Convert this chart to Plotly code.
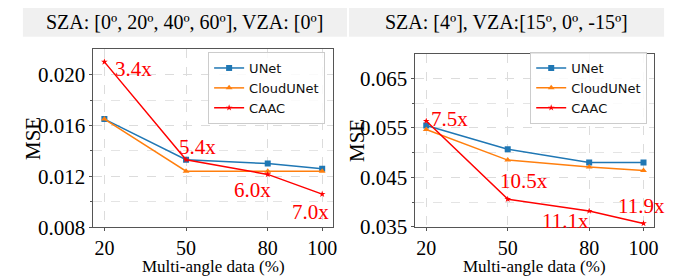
import plotly.graph_objects as go

W, H = 678, 279

x_pct = [20, 50, 80, 100]
x_ticks = [20, 50, 80, 100]

# Left panel
left_title = "SZA: [0º, 20º, 40º, 60º], VZA: [0º]"
left_unet = [0.0165, 0.0133, 0.0130, 0.0126]
left_cloud = [0.0165, 0.0124, 0.0124, 0.0124]
left_caac = [0.0210, 0.0133, 0.01215, 0.0106]
left_labels = ["3.4x", "5.4x", "6.0x", "7.0x"]
left_yticks = [0.008, 0.012, 0.016, 0.020]

# Right panel
right_title = "SZA: [4º], VZA:[15º, 0º, -15º]"
right_unet = [0.0555, 0.0507, 0.0480, 0.0480]
right_cloud = [0.0547, 0.0485, 0.0471, 0.0464]
right_caac = [0.0564, 0.0406, 0.0382, 0.0357]
right_labels = ["7.5x", "10.5x", "11.1x", "11.9x"]
right_yticks = [0.035, 0.045, 0.055, 0.065]

series_names = ["UNet", "CloudUNet", "CAAC"]
colors = ["#1f77b4", "#ff7f0e", "#ff0000"]
symbols = ["square", "triangle-up", "star"]
msizes = [6, 6, 5]

SERIF = "Liberation Serif, Times New Roman, serif"
SANS = "DejaVu Sans, sans-serif"

def px(xp):
    return xp / W

def py(yp):
    return 1 - yp / H

fig = go.Figure()

for data, xa, ya, leg in [
    ((left_unet, left_cloud, left_caac), "x", "y", "legend"),
    ((right_unet, right_cloud, right_caac), "x2", "y2", "legend2"),
]:
    for name, vals, c, s, ms in zip(series_names, data, colors, symbols, msizes):
        fig.add_trace(go.Scatter(
            x=x_pct, y=vals, name=name, mode="lines+markers",
            line=dict(color=c, width=1.5),
            marker=dict(color=c, symbol=s, size=ms, line=dict(width=0)),
            xaxis=xa, yaxis=ya, legend=leg,
        ))

grid = dict(showgrid=True, gridcolor="#dcdcdc", griddash="dash", gridwidth=1)
axis_common = dict(
    showline=True, linecolor="#555555", linewidth=1, mirror=True,
    ticks="outside", ticklen=3, tickcolor="#555555",
    tickfont=dict(family=SERIF, size=21, color="black"),
    zeroline=False, **grid,
)
xaxis_common = dict(axis_common, tickfont=dict(family=SERIF, size=20, color="black"))

legend_common = dict(
    xanchor="right", yanchor="top",
    bgcolor="rgba(255,255,255,0.85)", bordercolor="#cccccc", borderwidth=1,
    font=dict(family=SANS, size=13, color="#111"), tracegroupgap=0,
    itemwidth=30,
)

fig.update_layout(
    width=W, height=H, margin=dict(l=0, r=0, t=0, b=0),
    paper_bgcolor="white", plot_bgcolor="white",
    xaxis=dict(domain=[px(86), px(327)], range=[16, 104], tickvals=x_ticks,
               anchor="y", **xaxis_common),
    yaxis=dict(domain=[py(229), py(43)], range=[0.008, 0.022], tickvals=left_yticks,
               tickformat=".3f", anchor="x",
               minor=dict(tickvals=[0.010, 0.014, 0.018], ticks="outside", ticklen=2,
                          showgrid=True, gridcolor="#e4e4e4", griddash="dash"),
               **axis_common),
    xaxis2=dict(domain=[px(409.8), px(650.2)], range=[16, 104], tickvals=x_ticks,
                anchor="y2", **xaxis_common),
    yaxis2=dict(domain=[py(228.7), py(47.8)], range=[0.035, 0.070], tickvals=right_yticks,
                tickformat=".3f", anchor="x2",
                minor=dict(tickvals=[0.040, 0.050, 0.060], ticks="outside", ticklen=2,
                           showgrid=True, gridcolor="#e4e4e4", griddash="dash"),
                **axis_common),
    legend=dict(x=px(319), y=py(46), **legend_common),
    legend2=dict(x=px(643), y=py(46), **legend_common),
    showlegend=True,
)

# Title bands
fig.add_shape(type="rect", xref="paper", yref="paper", x0=px(15), x1=px(341),
              y0=py(30), y1=py(0), fillcolor="#f0f0f0", line=dict(width=0), layer="below")
fig.add_shape(type="rect", xref="paper", yref="paper", x0=px(343), x1=px(660),
              y0=py(30), y1=py(0), fillcolor="#f0f0f0", line=dict(width=0), layer="below")

for text, xc in [(left_title, 178), (right_title, 501)]:
    fig.add_annotation(xref="paper", yref="paper", x=px(xc), y=py(15), text=text,
                       showarrow=False, xanchor="center", yanchor="middle",
                       font=dict(family=SERIF, size=20, color="black"))

# Axis titles
for xc in [206.5, 530]:
    fig.add_annotation(xref="paper", yref="paper", x=px(xc), y=py(270),
                       text="Multi-angle data (%)", showarrow=False,
                       xanchor="center", yanchor="middle",
                       font=dict(family=SERIF, size=17, color="black"))
for xc, yc in [(25, 136), (351, 138)]:
    fig.add_annotation(xref="paper", yref="paper", x=px(xc), y=py(yc),
                       text="MSE", showarrow=False, textangle=-90,
                       xanchor="center", yanchor="middle",
                       font=dict(family=SERIF, size=21, color="black"))

# Ratio labels near CAAC points
left_shifts = [(29, -7), (11, 13), (-15, -16), (-12, -18)]
right_shifts = [(23, 2), (16, 18), (-24, -10), (-2, 17)]
for labels, vals, shifts, xr, yr in [
    (left_labels, left_caac, left_shifts, "x", "y"),
    (right_labels, right_caac, right_shifts, "x2", "y2"),
]:
    for lab, xv, yv, (dx, dy) in zip(labels, x_pct, vals, shifts):
        fig.add_annotation(xref=xr, yref=yr, x=xv, y=yv, text=lab, showarrow=False,
                           xshift=dx, yshift=dy, xanchor="center", yanchor="middle",
                           font=dict(family=SERIF, size=21, color="#ff0000"))

fig.write_html("out.html")
